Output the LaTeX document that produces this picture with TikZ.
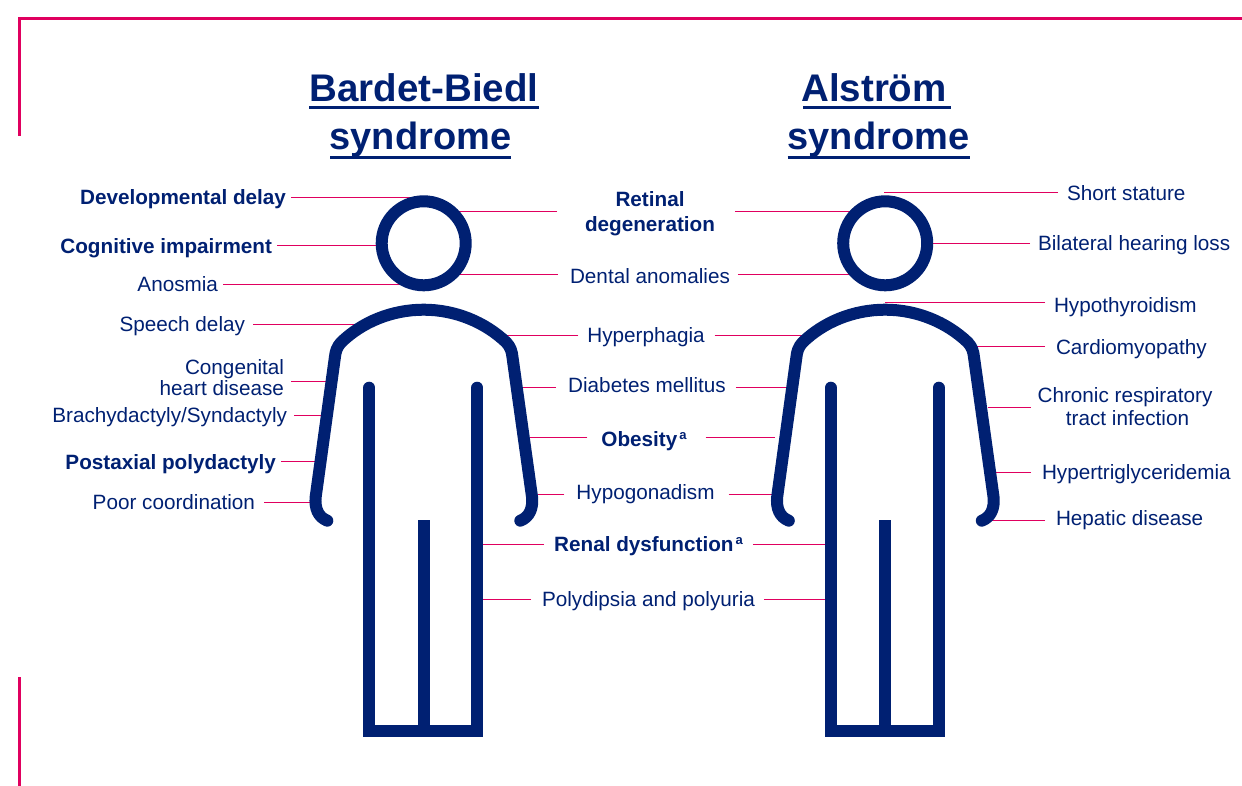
\documentclass[tikz,border=0pt]{standalone}
\usepackage{fontspec}
\setmainfont{Liberation Sans}
\definecolor{navy}{HTML}{002072}
\definecolor{rose}{HTML}{E0005F}
\newcommand\wireW[3]{\draw[wire] ([xshift=-#2]#1.west |- #3) -- (#3);}
\newcommand\wireE[3]{\draw[wire] ([xshift=#2]#1.east |- #3) -- (#3);}
\newcommand\supa{\raisebox{6.5pt}{\kern2pt\fontsize{13}{13}\selectfont\bfseries a}}
\newcommand\person[2]{%
  \begin{scope}[xshift=#1]
    \node[draw=navy,line width=12pt,circle,minimum size=84pt,inner sep=0pt,outer sep=0pt] (head#2) at (423.7,243.3) {};
    \draw[limb] (327.3,520.7) .. controls (318,517) and (314.5,508) .. (315.7,496.7)
      -- (334.8,358) .. controls (335.5,351) and (337,347) .. (341,342.5)
      .. controls (362,322) and (392,309.7) .. (423.7,309.7)
      .. controls (455,309.7) and (485,322) .. (506.4,342.5)
      .. controls (510.4,347) and (511.9,351) .. (512.6,358)
      -- (532,496.7) .. controls (533.2,508) and (529.7,517) .. (520.3,520.7);
    \draw[limb,line join=miter] (369.3,387.7) -- (369.3,731.3) -- (477.2,731.3) -- (477.2,387.7);
    \draw[stem] (423.7,520.3) -- (423.7,731.3);
  \end{scope}}
\tikzset{
  x=1pt,y=-1pt,
  wire/.style={draw=rose,line width=1pt},
  limb/.style={draw=navy,line width=12pt,line cap=round,line join=round},
  stem/.style={draw=navy,line width=12pt},
  frame/.style={draw=rose,line width=3pt},
  rule/.style={draw=navy,line width=2.6pt},
  lab/.style={text=navy,inner sep=0pt,outer sep=0pt,font=\fontsize{20.7}{24}\selectfont,align=center},
  lbold/.style={lab,font=\fontsize{20.7}{25}\selectfont\bfseries},
  ttl/.style={text=navy,inner sep=0pt,outer sep=0pt,font=\fontsize{38.5}{48}\selectfont\bfseries},
  ttlb/.style={ttl,font=\fontsize{38}{48}\selectfont\bfseries},
}
\begin{document}
\begin{tikzpicture}
\useasboundingbox (0,0) rectangle (1242,786);
% frame
\coordinate (f1) at (19,136); \coordinate (f2) at (19,19); \coordinate (f3) at (1242,19);
\coordinate (f4) at (19,677); \coordinate (f5) at (19,786);
\draw[frame] (f1) -- (f2) -- (f3);
\draw[frame] (f4) -- (f5);
% titles
\node[ttl] (t1) at (424,88) {Bardet-Biedl};
\node[ttlb] (t2) at (420.5,140) {syndrome};
\node[ttl] (t3) at (874,88) {Alström};
\node[ttlb] (t4) at (878.5,140) {syndrome};
\coordinate (u1a) at (309,107.5); \coordinate (u1b) at (539,107.5);
\coordinate (u2a) at (330,157.3); \coordinate (u2b) at (511,157.3);
\coordinate (u3a) at (803,107.5); \coordinate (u3b) at (951,107.5);
\coordinate (u4a) at (787.5,157.3); \coordinate (u4b) at (969.5,157.3);
\draw[rule] (u1a) -- (u1b); \draw[rule] (u2a) -- (u2b);
\draw[rule] (u3a) -- (u3b); \draw[rule] (u4a) -- (u4b);
% wire ends on the figures
\coordinate (a1) at (410,197.5); \coordinate (a2) at (378,246); \coordinate (a3) at (400,284.5);
\coordinate (a4) at (358,324.5); \coordinate (a5) at (327,381); \coordinate (a6) at (322,415.5);
\coordinate (a7) at (316,461); \coordinate (a8) at (310,502.5);
\coordinate (b1) at (459,212); \coordinate (b2) at (459,274.5); \coordinate (b3) at (505,335);
\coordinate (b4) at (522,387); \coordinate (b5) at (530,437); \coordinate (b6) at (538,494.5);
\coordinate (b7) at (483,544.5); \coordinate (b8) at (483,599);
\coordinate (c1) at (850,212); \coordinate (c2) at (850,274.5); \coordinate (c3) at (805,335);
\coordinate (c4) at (787,387); \coordinate (c5) at (775,437); \coordinate (c6) at (772,494.5);
\coordinate (c7) at (825,544.5); \coordinate (c8) at (825,599);
\coordinate (d1) at (884,193); \coordinate (d2) at (930,243.5); \coordinate (d3) at (885,303);
\coordinate (d4) at (975,346); \coordinate (d5) at (988,407); \coordinate (d6) at (985,472);
\coordinate (d7) at (990,520.5);
% left labels
\node[lbold,anchor=east] (l1) at (286,199) {Developmental delay};
\node[lbold,anchor=east] (l2) at (272,248) {Cognitive impairment};
\node[lab,anchor=east] (l3) at (218,284) {Anosmia};
\node[lab,anchor=east] (l4) at (245,326) {Speech delay};
\node[lab,anchor=east,align=right] (l5) at (284,378) {Congenital\\[-3pt]heart disease};
\node[lab,anchor=east] (l6) at (287,417) {Brachydactyly/Syndactyly};
\node[lbold,anchor=east] (l7) at (276,464) {Postaxial polydactyly};
\node[lab,anchor=east] (l8) at (255,502) {Poor coordination};
% middle labels
\node[lbold] (m1) at (650,214) {Retinal\\degeneration};
\node[lab] (m2) at (650,276) {Dental anomalies};
\node[lab] (m3) at (646,337) {Hyperphagia};
\node[lab] (m4) at (647,385) {Diabetes mellitus};
\node[lbold] (m5) at (644,441) {Obesity\supa};
\node[lab] (m6) at (645.5,494) {Hypogonadism};
\node[lbold] (m7) at (648.5,546) {Renal dysfunction\supa};
\node[lab] (m8) at (648.5,601) {Polydipsia and polyuria};
% right labels
\node[lab,anchor=west] (r1) at (1067,193) {Short stature};
\node[lab,anchor=west] (r2) at (1038,245) {Bilateral hearing loss};
\node[lab,anchor=west] (r3) at (1054,307) {Hypothyroidism};
\node[lab,anchor=west] (r4) at (1056,349) {Cardiomyopathy};
\node[lab] (r5) at (1125,406.5) {Chronic respiratory\\[-1pt]\hspace*{5pt}tract infection};
\node[lab,anchor=west] (r6) at (1042,474) {Hypertriglyceridemia};
\node[lab,anchor=west] (r7) at (1056,520) {Hepatic disease};
\wireE{l1}{5pt}{a1} \wireE{l2}{5pt}{a2} \wireE{l3}{5pt}{a3} \wireE{l4}{8pt}{a4}
\wireE{l5}{7pt}{a5} \wireE{l6}{7pt}{a6} \wireE{l7}{5pt}{a7} \wireE{l8}{9pt}{a8}
\wireW{m1}{28pt}{b1} \wireW{m2}{12pt}{b2} \wireW{m3}{9pt}{b3} \wireW{m4}{12pt}{b4}
\wireW{m5}{14pt}{b5} \wireW{m6}{12pt}{b6} \wireW{m7}{10pt}{b7} \wireW{m8}{11pt}{b8}
\wireE{m1}{20pt}{c1} \wireE{m2}{8pt}{c2} \wireE{m3}{10pt}{c3} \wireE{m4}{10pt}{c4}
\wireE{m5}{19pt}{c5} \wireE{m6}{14pt}{c6} \wireE{m7}{10pt}{c7} \wireE{m8}{9pt}{c8}
\wireW{r1}{9pt}{d1} \wireW{r2}{8pt}{d2} \wireW{r3}{9pt}{d3} \wireW{r4}{11pt}{d4}
\wireW{r5}{7pt}{d5} \wireW{r6}{11pt}{d6} \wireW{r7}{11pt}{d7}
% figures
\person{0pt}{A}
\person{461.5pt}{B}
\end{tikzpicture}
\end{document}
